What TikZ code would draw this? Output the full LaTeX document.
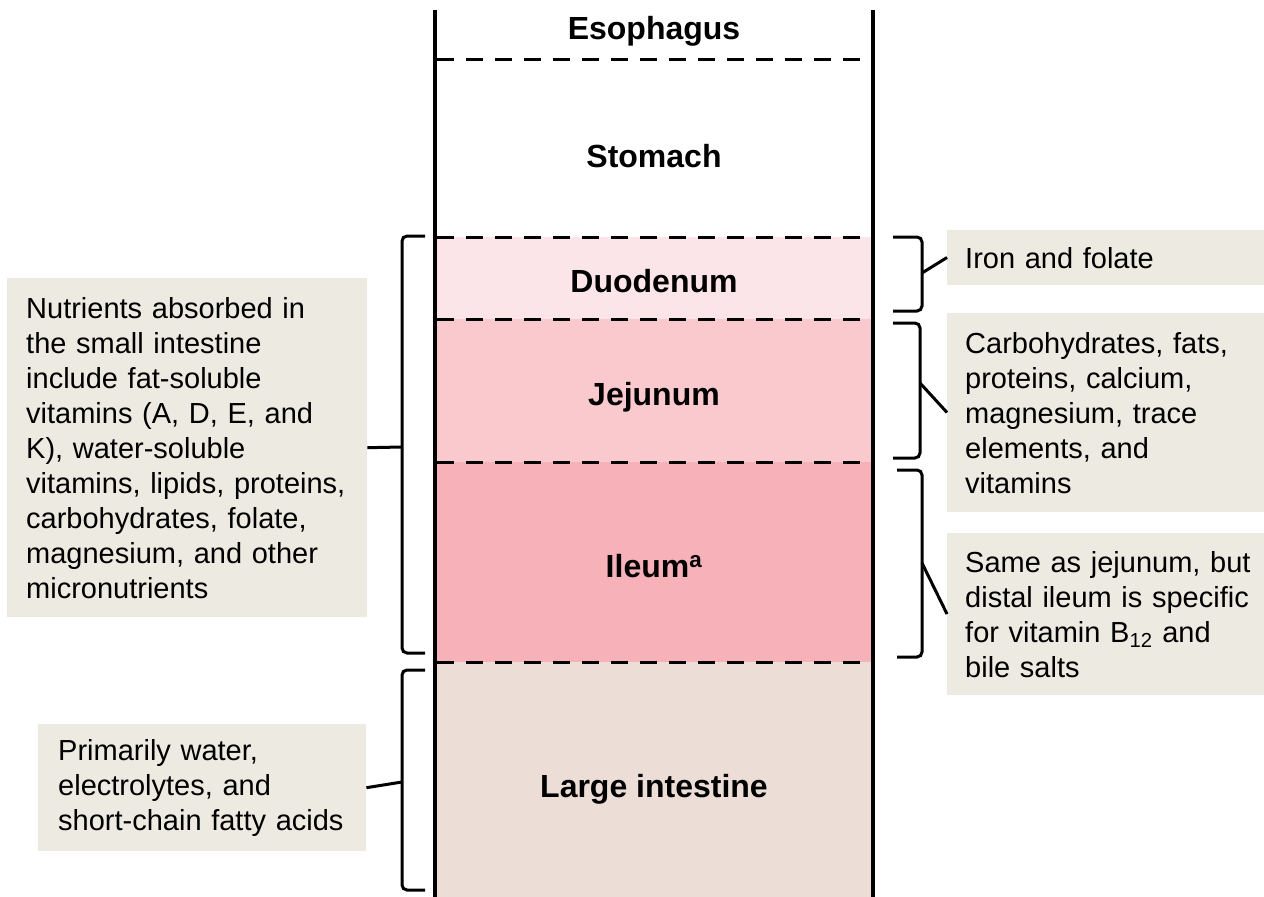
\documentclass[tikz,border=0pt]{standalone}
\usepackage{fontspec}
\setmainfont{Liberation Sans}
\definecolor{boxfill}{RGB}{236,234,225}
\definecolor{duofill}{RGB}{252,229,233}
\definecolor{jejfill}{RGB}{249,201,206}
\definecolor{ilefill}{RGB}{247,177,185}
\definecolor{lgifill}{RGB}{236,221,214}
\begin{document}
\begin{tikzpicture}[x=1pt,y=-1pt,
  tube/.style={line width=4.8pt},
  sepline/.style={line width=3pt, dash pattern=on 17pt off 12pt},
  brk/.style={line width=3pt, rounded corners=5pt},
  tick/.style={line width=3pt},
  seg/.style={font=\fontsize{32}{38}\selectfont\bfseries, anchor=base, inner sep=0pt},
  info/.style={fill=boxfill, anchor=north west, align=left, font=\fontsize{29}{35}\selectfont, inner ysep=0pt}]
\useasboundingbox (0,0) rectangle (1264,897);
% segment fills
\fill[duofill] (437,237) rectangle (871,319);
\fill[jejfill] (437,319) rectangle (871,462);
\fill[ilefill] (437,462) rectangle (871,662);
\fill[lgifill] (437,662) rectangle (871,897);
% separators
\foreach \y in {59,237,319,462,662} \draw[sepline] (437,\y) -- (862,\y);
% tube walls
\draw[tube] (435,10) -- (435,897);
\draw[tube] (873,10) -- (873,897);
% segment labels
\node[seg] (sEso) at (654,39) {Esophagus};
\node[seg] (sSto) at (654,167) {Stomach};
\node[seg] (sDuo) at (654,292) {Duodenum};
\node[seg] (sJej) at (654,405) {Jejunum};
\node[seg] (sIle) at (654,577) {Ileum\textsuperscript{a}};
\node[seg] (sLgi) at (654,797) {Large intestine};
% info boxes
\node[info, text width=322pt, inner xsep=19pt, minimum height=339pt] (bSmall) at (7,278)
  {Nutrients absorbed in\\the small intestine\\include fat-soluble\\vitamins (A, D, E, and\\K), water-soluble\\vitamins, lipids, proteins,\\carbohydrates, folate,\\magnesium, and other\\micronutrients};
\node[info, text width=288pt, inner xsep=20pt, minimum height=127pt] (bLarge) at (38,724)
  {Primarily water,\\electrolytes, and\\short-chain fatty acids};
\node[info, text width=300pt, inner xsep=18pt, minimum height=55pt] (bDuo) at (947,230)
  {Iron and folate};
\node[info, text width=300pt, inner xsep=18pt, minimum height=199pt] (bJej) at (947,313)
  {Carbohydrates, fats,\\proteins, calcium,\\magnesium, trace\\elements, and\\vitamins};
\node[info, text width=300pt, inner xsep=18pt, minimum height=162pt] (bIle) at (947,533)
  {Same as jejunum, but\\distal ileum is specific\\for vitamin B\textsubscript{12} and\\bile salts};
% brackets
\coordinate (kSmall) at (402,447);
\coordinate (kLarge) at (402,782);
\coordinate (kDuo) at (922,273);
\coordinate (kJej) at (920,383);
\coordinate (kIle) at (922,563);
\draw[brk] (425,236) -- (402,236) -- (402,653) -- (425,653);
\draw[brk] (425,670) -- (402,670) -- (402,890) -- (425,890);
\draw[brk] (893,237) -- (922,237) -- (922,311) -- (893,311);
\draw[brk] (893,323) -- (920,323) -- (920,458) -- (893,458);
\draw[brk] (897,470) -- (922,470) -- (922,657) -- (897,657);
% ticks
\draw[tick] (bSmall.east) -- (kSmall);
\draw[tick] (bLarge.east) -- (kLarge);
\draw[tick] (kDuo) -- (947,257.5);
\draw[tick] (kJej) -- (947,412.5);
\draw[tick] (kIle) -- (947,614);
\end{tikzpicture}
\end{document}
